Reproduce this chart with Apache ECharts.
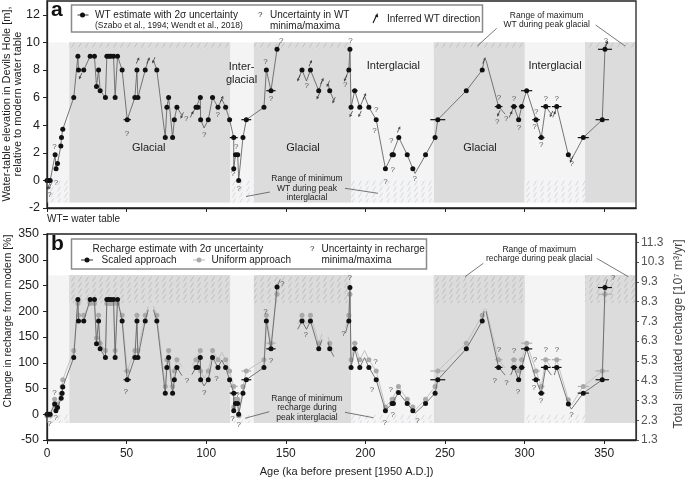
<!DOCTYPE html>
<html><head><meta charset="utf-8">
<script src="https://cdn.jsdelivr.net/npm/echarts@6/dist/echarts.min.js"></script>
<style>html,body{margin:0;padding:0;background:#fff}#c{width:685px;height:479px}</style>
</head><body><div id="c"></div>
<script>
// ---------- tick labels ----------
const xTicks = [0, 50, 100, 150, 200, 250, 300, 350];
const wtTicks = [-2, 0, 2, 4, 6, 8, 10, 12];
const pctTicks = [-50, 0, 50, 100, 150, 200, 250, 300, 350];
const rechargeTicks = [1.3, 2.3, 3.3, 4.3, 5.3, 6.3, 7.3, 8.3, 9.3, 10.3, 11.3];

// ---------- periods (ka) ----------
const glacialPeriods = [[14, 115], [130, 191], [243, 300], [338, 370]];
const interglacialPeriods = [[0, 14], [115, 130], [191, 243], [300, 338]];
const wtShadeRange = [-1.6, 10];
const wtMaxGlacialBand = [9.56, 10];
const wtMinInterglacialBand = [-1.6, 0];
const rcShadeRange = [-17, 270];
const rcMaxGlacialBand = [216, 270];
const rcMinInterglacialBand = [-17, -1];

// ---------- panel a: water table (ka, m); third value 0 = line end without marker; null = gap ----------
const wtPoints = [[0,0],[1,0],[2,0],[5.1,1.85],[5.7,0.85],[6.6,1.23],[8.7,2.5],[9.1,3.1],[9.9,3.7],[16.8,6.0],
 [19.4,9.0],[19.8,8.0],[23.1,8.0],[27.1,9.0],[29.8,9.0],[31.1,6.8],[32.4,8.0],[33.4,6.5],[36.7,6.0],[37.6,9.0],
 [38.9,9.0],[40.1,9.0],[41.8,9.0],[42.8,6.0],[44.3,9.0],[47.2,8.0],[50.4,4.4],[55.2,6.0],[56.5,8.0],[57.1,6.0],
 [61.7,8.0],[63.6,8.7,0],null,[66.9,8.7,0],[69.0,8.0],[74.3,3.1],[75.3,5.3],[76.4,6.0],[78.9,3.1],[80.0,4.4],
 [81.6,5.3],[84.8,4.7,0],null,[91.0,4.8,0],[93.6,5.3],[94.8,5.3],[96.3,6.0],[96.5,4.4],[98.7,3.8,0],[101.3,4.4],
 [104.0,6.0],[107.4,5.3],[109.8,5.9,0],[112.2,5.3],[114.7,4.4],[117.3,3.1],[117.3,0.85],[118.4,1.85],[119.8,1.85],
 [120.4,0],[123.1,3.1],[125.2,4.4],[136.3,5.3],[137.8,8.0],[140.7,6.5],[144.5,9.5],[146.5,10.0,0],null,
 [158.1,7.4,0],[160.2,8.0],[163.0,7.2,0],[165.5,8.0],[170.7,6.5],[172.8,7.2,0],null,[176.6,7.0,0],[177.6,6.5],
 [180.2,5.8,0],null,[187.5,7.4,0],[189.6,8.0],[190.3,9.5],[191.0,5.3],[193.3,6.5],[196.5,5.3],[199.5,6.1,0],
 [202.2,5.3],[206.8,4.4],[212.6,0.85],[216.8,1.85],[217.6,1.85],[221.0,3.1],[226.3,1.85],[229.8,0.85],[231.2,0.5,0],
 [237.8,1.85],[243.8,3.1],[245.5,4.4],[263.4,6.5],[273.4,8.0],[274.6,8.7,0],null,[275.8,8.7,0],[283.7,5.35],
 [287.8,4.8,0],null,[291.3,4.8,0],[293.3,5.35],[296.3,4.4],[298.2,5.35],[301.3,6.5],[307.2,4.4],[310.5,3.1],
 [313.3,5.35],[316.8,4.8,0],null,[318.6,4.8,0],[320.2,5.35],[327.5,1.85],[329.4,1.5,0],[336.9,3.1],[348.8,4.4],
 [350.5,9.5],[352.0,10.0,0]];
const wtErrors = [[50.4,4.4,2.3],[55.2,6.0,1.2],[57.1,6.0,1.2],[80.0,4.4,1],[93.6,5.3,1],[96.3,6.0,1.2],[104.0,6.0,1.2],
 [19.8,8.0,0.8],[117.3,3.1,2.5],[125.2,4.4,3.1],[140.7,6.5,2.9],[193.3,6.5,1.8],[245.5,4.4,4.7],[263.4,6.5,1.2],
 [273.4,8.0,1],[283.7,5.35,2.4],[293.3,5.35,2.0],[296.3,4.4,1.5],[298.2,5.35,1.8],[301.3,6.5,3.5],[307.2,4.4,2.4],
 [310.5,3.1,2.0],[313.3,5.35,3.0],[320.2,5.35,3.0],[336.9,3.1,3.5],[348.8,4.4,4.2],[350.5,9.5,4.4]];
const wtQuestion = [[1.5,-1.05],[4.7,2.47],[5.7,-0.2],[50.2,3.4],[87.5,4.48],[98.8,3.27],[107.2,4.72],[118.9,2.4],
 [116.8,0.48],[120.4,-0.6],[137.2,8.6],[140.7,5.93],[147.2,10.1],[163.2,6.85],[187.3,6.9],[190.6,10.1],[206.8,5.08],
 [205.7,3.63],[212.6,-0.12],[216.2,2.9],[217.2,0.78],[231.0,0.12],[283.9,5.98],[282.9,4.24],[288.5,4.5],[293.3,5.93],
 [296.5,3.8],[307.4,4.96],[306.3,3.87],[310.5,2.59],[313.3,5.9],[320.2,5.9],[329.6,1.21],[351.0,10.1]];
// inferred direction: 1 = rising, -1 = falling
const wtArrows = [[0.8,-0.45,-1],[1.8,-0.45,-1],[21.0,7.55,-1],[57.0,8.7,1],[63.6,8.7,1],[67.0,8.7,-1],[84.8,4.7,-1],
 [91.0,4.8,1],[109.8,5.9,1],[158.1,7.4,-1],[165.5,8.5,1],[170.3,6.1,-1],[172.8,7.2,1],[176.6,7.0,-1],[180.2,5.8,-1],
 [187.5,7.4,-1],[191.0,4.8,-1],[196.5,4.8,-1],[199.5,6.1,1],[221.0,3.7,1],[274.6,8.7,1],[283.7,4.85,-1],[291.3,4.8,1],
 [316.8,4.8,-1],[318.6,4.8,1],[329.4,1.5,-1],[351.5,9.9,1]];

// ---------- panel b: recharge change (%) ----------
const rcScaled = [[0,0],[1,0],[2,0],[4.8,20],[5.6,7],[6.6,13],[8.9,31],[9.5,41],[9.9,53],[16.8,110],[19.4,223],
 [19.8,181],[23.1,181],[27.1,223],[29.8,223],[31.1,137],[32.4,181],[33.4,127],[36.7,110],[37.6,223],[38.9,223],
 [40.1,223],[41.8,223],[42.8,110],[44.3,223],[47.2,181],[50.4,67],[55.2,110],[56.5,181],[57.1,110],[61.7,181],
 [63.6,203,0],null,[66.9,203,0],[69.0,181],[74.3,41],[75.3,91],[76.4,110],[78.9,41],[80.0,67],[81.6,91],[84.8,75,0],
 null,[91.0,77,0],[93.6,91],[94.8,91],[96.3,110],[96.5,67],[98.7,55,0],[101.3,67],[104.0,110],[107.4,91],
 [109.8,105,0],[112.2,91],[114.7,67],[117.3,41],[117.3,7],[118.4,21],[119.8,21],[120.4,0],[123.1,41],[125.2,67],
 [136.3,91],[137.8,181],[140.7,127],[144.5,247],[146.5,262,0],null,[157.5,165,0],[160.2,181],[163.0,165,0],
 [165.5,181],[170.7,127],[172.8,145,0],null,[176.6,140,0],[177.6,127],[180.2,112,0],null,[187.5,158,0],[189.6,181],
 [190.3,246],[191.0,91],[193.3,127],[196.5,91],[199.5,110,0],[202.2,91],[206.8,67],[212.6,7],[216.8,21],[217.6,21],
 [220.8,42],[226.3,21],[229.8,7],[231.2,2,0],[237.8,21],[243.8,41],[245.5,67],[263.4,127],[273.4,181],[274.6,200,0],
 null,[275.8,200,0],[283.7,91],[287.8,76,0],null,[291.3,76,0],[293.3,91],[296.3,67],[298.2,91],[301.3,127],
 [307.2,67],[310.5,41],[313.3,91],[316.8,76,0],null,[318.6,76,0],[320.2,91],[327.5,20],[329.4,10,0],[336.9,41],
 [348.8,67],[350.5,246],[352.0,262,0]];
const rcUniform = [[0,-3],[1,-3],[2,-3],[4.8,29],[5.6,14],[6.6,20],[8.9,40],[9.5,54],[9.9,67],[16.8,124],[19.4,215],
 [19.8,192],[23.1,192],[27.1,215],[29.8,215],[31.1,148],[32.4,192],[33.4,138],[36.7,124],[37.6,215],[38.9,215],
 [40.1,215],[41.8,215],[42.8,124],[44.3,215],[47.2,192],[50.4,84],[55.2,124],[56.5,192],[57.1,124],[61.7,192],
 [63.6,210,0],null,[66.9,210,0],[69.0,192],[74.3,54],[75.3,106],[76.4,124],[78.9,54],[80.0,84],[81.6,106],[84.8,92,0],
 null,[91.0,94,0],[93.6,106],[94.8,106],[96.3,124],[96.5,84],[98.7,70,0],[101.3,84],[104.0,124],[107.4,106],
 [109.8,120,0],[112.2,106],[114.7,84],[117.3,54],[117.3,14],[118.4,29],[119.8,29],[120.4,-3],[123.1,54],[125.2,84],
 [136.3,106],[137.8,192],[140.7,138],[144.5,233],[146.5,250,0],null,[157.5,175,0],[160.2,192],[163.0,175,0],
 [165.5,192],[170.7,138],[172.8,156,0],null,[176.6,150,0],[177.6,138],[180.2,122,0],null,[187.5,168,0],[189.6,192],
 [190.3,233],[191.0,106],[193.3,138],[196.5,106],[199.5,124,0],[202.2,106],[206.8,84],[212.6,14],[216.8,29],[217.6,29],
 [220.8,54],[226.3,29],[229.8,14],[231.2,8,0],[237.8,29],[243.8,54],[245.5,84],[263.4,138],[273.4,192],[274.6,205,0],
 null,[275.8,205,0],[283.7,106],[287.8,90,0],null,[291.3,90,0],[293.3,106],[296.3,84],[298.2,106],[301.3,138],
 [307.2,84],[310.5,54],[313.3,106],[316.8,90,0],null,[318.6,90,0],[320.2,106],[327.5,28],[329.4,18,0],[336.9,54],
 [348.8,84],[350.5,233],[352.0,250,0]];
const rcScaledErrors = [[50.4,67,2.3],[117.3,41,2.5],[125.2,67,3.1],[140.7,127,2.9],[193.3,127,1.8],[245.5,67,4.7],
 [263.4,127,1.2],[283.7,91,2.4],[293.3,91,2.0],[296.3,67,1.5],[298.2,91,1.8],[301.3,127,3.5],[307.2,67,2.4],
 [310.5,41,2.0],[313.3,91,3.0],[320.2,91,3.0],[336.9,41,3.5],[348.8,67,4.2],[350.5,246,4.4]];
const rcUniformErrors = [[50.4,84,2.3],[117.3,54,2.5],[125.2,84,3.1],[140.7,138,2.9],[193.3,138,1.8],[245.5,84,4.7],
 [263.4,138,1.2],[283.7,106,2.4],[293.3,106,2.0],[296.3,84,1.5],[298.2,106,1.8],[301.3,138,3.5],[307.2,84,2.4],
 [310.5,54,2.0],[313.3,106,3.0],[320.2,106,3.0],[336.9,54,3.5],[348.8,84,4.2],[350.5,233,4.4]];
const rcQuestion = [[1.5,-19],[4.7,41],[5.5,-6],[49.5,44],[87.9,65],[98.8,42],[106.4,68],[116.5,-8],[119.6,38],
 [120.4,-20],[137.2,199],[140.7,104],[147.7,254],[162.5,155],[186.2,157],[190.1,264],[206.4,102],[204.1,48],
 [212.2,-16],[216.0,48],[217.2,-1],[232.8,-13],[283.9,126],[281.2,65],[288.7,61],[293.3,124],[295.9,44],[306.6,105],
 [305.9,51],[310.3,26],[313.3,126],[320.4,126],[329.4,-1],[355.7,265]];

// ---------- helpers ----------
const FONT = '"Liberation Sans", Arial, sans-serif';
function hatch(bg, fg) {
  const c = document.createElement('canvas'); c.width = 7; c.height = 6;
  const g = c.getContext('2d'); g.fillStyle = bg; g.fillRect(0, 0, 7, 6);
  g.strokeStyle = fg; g.lineWidth = 1; g.beginPath(); g.moveTo(1.5, 5.5); g.lineTo(4.5, 0.5); g.stroke();
  return { image: c, repeat: 'repeat' };
}
function rectSeries(xi, yi, rects, fill, z) {
  return { type: 'custom', xAxisIndex: xi, yAxisIndex: yi, silent: true, z, data: rects,
    encode: { x: [0, 1], y: [2, 3] },
    renderItem(p, api) {
      const a = api.coord([api.value(0), api.value(3)]), b = api.coord([api.value(1), api.value(2)]);
      return { type: 'rect', shape: { x: a[0], y: a[1], width: b[0] - a[0], height: b[1] - a[1] }, style: { fill } };
    } };
}
function lineData(pts) {
  const out = []; let lastX = 0;
  pts.forEach(p => {
    if (p === null) out.push({ value: [lastX, '-'], symbol: 'none' });
    else { lastX = p[0]; out.push({ value: [p[0], p[1]], symbol: p[2] === 0 ? 'none' : 'circle' }); }
  });
  return out;
}
function errSeries(xi, yi, data, color, z) {
  return { type: 'custom', xAxisIndex: xi, yAxisIndex: yi, silent: true, z, data, encode: { x: 0, y: 1 },
    renderItem(p, api) {
      const x = api.value(0), y = api.value(1), e = api.value(2);
      const a = api.coord([x - e, y]), b = api.coord([x + e, y]);
      return { type: 'line', shape: { x1: a[0], y1: a[1], x2: b[0], y2: b[1] }, style: { stroke: color, lineWidth: 1.2 } };
    } };
}
function qSeries(xi, yi, data) {
  return { type: 'scatter', xAxisIndex: xi, yAxisIndex: yi, silent: true, z: 8, data, symbolSize: 1,
    itemStyle: { color: 'rgba(0,0,0,0)' },
    label: { show: true, position: 'inside', formatter: '?', fontSize: 8, fontFamily: FONT, color: '#333' } };
}
const ARROW = 'path://M2,0 L4,5 L2.5,5 L2.5,12 L1.5,12 L1.5,5 L0,5 Z';

const bandRects = (periods, r) => periods.map(p => [p[0], p[1], r[0], r[1]]);
const BG = '#f4f4f4', GL = '#dcdcdc';

const series = [
  rectSeries(0, 0, [[0, 370, wtShadeRange[0], wtShadeRange[1]]], BG, 0),
  rectSeries(0, 0, bandRects(glacialPeriods, wtShadeRange), GL, 0),
  rectSeries(0, 0, bandRects(glacialPeriods, wtMaxGlacialBand), hatch(GL, '#c3c3c3'), 1),
  rectSeries(0, 0, bandRects(interglacialPeriods, wtMinInterglacialBand), hatch(BG, '#d2d9e3'), 1),
  rectSeries(1, 1, [[0, 370, rcShadeRange[0], rcShadeRange[1]]], BG, 0),
  rectSeries(1, 1, bandRects(glacialPeriods, rcShadeRange), GL, 0),
  rectSeries(1, 1, bandRects(glacialPeriods, rcMaxGlacialBand), hatch(GL, '#bdbdbd'), 1),
  rectSeries(1, 1, bandRects(interglacialPeriods, rcMinInterglacialBand), hatch(BG, '#d2d9e3'), 1),
  { type: 'line', xAxisIndex: 0, yAxisIndex: 0, z: 5, silent: true, data: lineData(wtPoints), showAllSymbol: true,
    symbolSize: 5, itemStyle: { color: '#111' }, lineStyle: { color: '#666', width: 0.9 }, connectNulls: false },
  errSeries(0, 0, wtErrors, '#111', 6),
  qSeries(0, 0, wtQuestion),
  { type: 'scatter', xAxisIndex: 0, yAxisIndex: 0, silent: true, z: 7, symbol: ARROW, symbolSize: [3, 7],
    itemStyle: { color: '#222' },
    data: wtArrows.map(a => ({ value: [a[0], a[1]], symbolRotate: a[2] > 0 ? -25 : 155 })) },
  { type: 'line', xAxisIndex: 1, yAxisIndex: 1, z: 3, silent: true, data: lineData(rcUniform), showAllSymbol: true,
    symbolSize: 5, itemStyle: { color: '#a9a9a9' }, lineStyle: { color: '#bdbdbd', width: 0.9 }, connectNulls: false },
  errSeries(1, 1, rcUniformErrors, '#b0b0b0', 3),
  { type: 'line', xAxisIndex: 1, yAxisIndex: 1, z: 5, silent: true, data: lineData(rcScaled), showAllSymbol: true,
    symbolSize: 5, itemStyle: { color: '#111' }, lineStyle: { color: '#666', width: 0.9 }, connectNulls: false },
  errSeries(1, 1, rcScaledErrors, '#111', 6),
  qSeries(1, 1, rcQuestion)
];

// ---------- graphic (frames, legends, annotations) ----------
function txt(x, y, text, size, opt) {
  return Object.assign({ type: 'text', x, y, z: 101, silent: true,
    style: Object.assign({ text, font: size + 'px ' + FONT, fill: '#222', align: 'left', verticalAlign: 'middle' }, (opt && opt.style) || {}) },
    (opt && opt.el) || {});
}
function ln(x1, y1, x2, y2, color, w) {
  return { type: 'line', z: 101, silent: true, shape: { x1, y1, x2, y2 }, style: { stroke: color || '#555', lineWidth: w || 0.8 } };
}
function dot(x, y, color) { return { type: 'circle', z: 102, silent: true, shape: { cx: x, cy: y, r: 2.5 }, style: { fill: color } }; }
const C = { align: 'center' };
const graphics = [
  { type: 'rect', z: 100, silent: true, shape: { x: 47, y: 1, width: 589, height: 207 }, style: { fill: 'none', stroke: '#222', lineWidth: 1.3 } },
  { type: 'rect', z: 100, silent: true, shape: { x: 47, y: 234, width: 589, height: 206 }, style: { fill: 'none', stroke: '#222', lineWidth: 1.3 } },
  txt(51, 10, 'a', 20, { style: { font: 'bold 21px ' + FONT, fill: '#111' } }),
  txt(51, 244, 'b', 20, { style: { font: 'bold 21px ' + FONT, fill: '#111' } }),
  // legend a
  { type: 'rect', z: 100, silent: true, shape: { x: 71.5, y: 5, width: 411, height: 27 }, style: { fill: '#fff', stroke: '#8a8a8a', lineWidth: 1.5 } },
  ln(77.5, 15, 88.5, 15, '#333', 1), dot(82.5, 15, '#111'),
  txt(95, 15, 'WT estimate with 2σ uncertainty', 10),
  txt(95, 26, '(Szabo et al., 1994; Wendt et al., 2018)', 8.5),
  txt(258, 15, '?', 8),
  txt(270, 15, 'Uncertainty in WT', 10), txt(270, 26, 'minima/maxima', 10),
  ln(373, 23, 376.5, 15.5, '#111', 1.1),
  { type: 'polygon', z: 102, silent: true, shape: { points: [[377.5, 13], [378.2, 17.5], [375, 16.3]] }, style: { fill: '#111' } },
  txt(387, 19, 'Inferred WT direction', 10),
  // legend b
  { type: 'rect', z: 100, silent: true, shape: { x: 71.5, y: 239, width: 355, height: 30 }, style: { fill: '#fff', stroke: '#8a8a8a', lineWidth: 1.5 } },
  txt(92.5, 249, 'Recharge estimate with 2σ uncertainty', 10),
  ln(81, 260, 93, 260, '#333', 1), dot(87, 260, '#111'),
  txt(101.5, 260, 'Scaled approach', 10),
  ln(193, 260, 205, 260, '#bbb', 1), dot(199, 260, '#a9a9a9'),
  txt(211.5, 260, 'Uniform approach', 10),
  txt(310, 249, '?', 8),
  txt(321.5, 249, 'Uncertainty in recharge', 10), txt(321.5, 260, 'minima/maxima', 10),
  // period labels
  txt(148.7, 148.3, 'Glacial', 11, { style: C }), txt(303, 148.3, 'Glacial', 11, { style: C }), txt(480, 148.3, 'Glacial', 11, { style: C }),
  txt(241.5, 66.7, 'Inter-', 11, { style: C }), txt(241.5, 80, 'glacial', 11, { style: C }),
  txt(393.3, 66, 'Interglacial', 11, { style: C }), txt(555, 66, 'Interglacial', 11, { style: C }),
  // range annotations
  txt(307, 179, 'Range of minimum', 8.5, { style: C }), txt(307, 188.7, 'WT during peak', 8.5, { style: C }), txt(307, 198, 'interglacial', 8.5, { style: C }),
  ln(270, 192, 246, 196.5), ln(345, 188.3, 378, 193.3),
  txt(546.7, 15.7, 'Range of maximum', 8.5, { style: C }), txt(546.7, 25, 'WT during peak glacial', 8.5, { style: C }),
  ln(496.7, 28.3, 477.3, 46), ln(595.7, 25, 625, 46),
  txt(307, 398.3, 'Range of minimum', 8.5, { style: C }), txt(307, 408, 'recharge during', 8.5, { style: C }), txt(307, 417.3, 'peak interglacial', 8.5, { style: C }),
  ln(269.3, 411.7, 245, 418.3), ln(345, 412.3, 373.3, 417.7),
  txt(539.3, 249.3, 'Range of maximum', 8.5, { style: C }), txt(539.3, 258.3, 'recharge during peak glacial', 8.5, { style: C }),
  ln(483.3, 263.3, 465, 276.7), ln(596.7, 258.3, 628.3, 276.7),
  txt(47, 219, 'WT= water table', 10),
  // axis names
  txt(12.5, 104, 'Water-table elevation in Devils Hole [m],\nrelative to modern water table', 11, { style: { align: 'center', lineHeight: 11.5 }, el: { rotation: Math.PI / 2 } }),
  txt(8.3, 321, 'Change in recharge from modern [%]', 10.5, { style: C, el: { rotation: Math.PI / 2 } }),
  txt(679, 334, 'Total simulated recharge [10⁷ m³/yr]', 12, { style: { align: 'center', fill: '#444' }, el: { rotation: Math.PI / 2 } }),
  txt(346.5, 471.5, 'Age (ka before present [1950 A.D.])', 11, { style: C })
];

const axisLineDark = { show: true, onZero: false, lineStyle: { color: '#222', width: 1.3 } };
const chart = echarts.init(document.getElementById('c'), null, { renderer: 'canvas' });
chart.setOption({
  animation: false,
  backgroundColor: '#fff',
  grid: [
    { left: 47, top: 1, width: 589, height: 207, containLabel: false },
    { left: 47, top: 234, width: 589, height: 206, containLabel: false }
  ],
  xAxis: [
    { type: 'value', gridIndex: 0, min: 0, max: 370, axisLine: axisLineDark, splitLine: { show: false },
      axisTick: { show: true, customValues: xTicks, length: 4, lineStyle: { color: '#222' } }, axisLabel: { show: false } },
    { type: 'value', gridIndex: 1, min: 0, max: 370, axisLine: axisLineDark, splitLine: { show: false },
      axisTick: { show: true, customValues: xTicks, length: 4, lineStyle: { color: '#222' } },
      axisLabel: { customValues: xTicks, fontSize: 12, fontFamily: FONT, color: '#222', margin: 8 } }
  ],
  yAxis: [
    { type: 'value', gridIndex: 0, min: -2, max: 13, axisLine: axisLineDark, splitLine: { show: false },
      axisTick: { show: true, customValues: wtTicks, length: 4, lineStyle: { color: '#222' } },
      axisLabel: { customValues: wtTicks, fontSize: 12.5, fontFamily: FONT, color: '#222', margin: 7 } },
    { type: 'value', gridIndex: 1, min: -50, max: 350, axisLine: axisLineDark, splitLine: { show: false },
      axisTick: { show: true, customValues: pctTicks, length: 4, lineStyle: { color: '#222' } },
      axisLabel: { customValues: pctTicks, fontSize: 12.5, fontFamily: FONT, color: '#222', margin: 8 } },
    { type: 'value', gridIndex: 1, position: 'right', min: 1.3, max: 11.72,
      axisLine: { show: true, onZero: false, lineStyle: { color: '#555', width: 1.2 } }, splitLine: { show: false },
      axisTick: { show: true, customValues: rechargeTicks, length: 3, lineStyle: { color: '#555' } },
      axisLabel: { customValues: rechargeTicks, fontSize: 12, fontFamily: FONT, color: '#555', margin: 5,
        formatter: v => v.toFixed(1) } }
  ],
  series,
  graphic: { elements: graphics }
});
</script></body></html>
